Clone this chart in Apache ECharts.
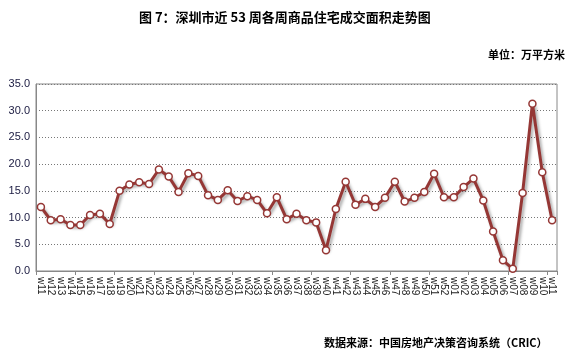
<!DOCTYPE html>
<html>
<head>
<meta charset="utf-8">
<script src="https://cdn.jsdelivr.net/npm/echarts@6/dist/echarts.min.js"></script>
<style>
html,body{margin:0;padding:0;background:#fff;}
#c{width:576px;height:356px;}
</style>
</head>
<body>
<div id="c"></div>
<script>
const weeks = ['w11','w12','w13','w14','w15','w16','w17','w18','w19','w20','w21','w22','w23','w24','w25','w26','w27','w28','w29','w30','w31','w32','w33','w34','w35','w36','w37','w38','w39','w40','w41','w42','w43','w44','w45','w46','w47','w48','w49','w50','w51','w52','w01','w02','w03','w04','w05','w06','w07','w08','w09','w10','w11'];
const area = [12.0,9.5,9.7,8.6,8.6,10.5,10.7,8.8,15.0,16.2,16.6,16.3,19.0,17.7,14.8,18.3,17.8,14.2,13.3,15.1,13.1,14.0,13.3,10.8,13.8,9.7,10.7,9.5,9.1,3.9,11.6,16.7,12.4,13.5,12.0,13.7,16.7,13.0,13.7,14.8,18.2,13.8,13.8,15.7,17.3,13.2,7.4,2.0,0.4,14.6,31.3,18.5,9.5];
const yTicks = {min:0, max:35, interval:5};
const titleText = '图 7：深圳市近 53 周各周商品住宅成交面积走势图';
const unitText = '单位：万平方米';
const sourceText = '数据来源：中国房地产决策咨询系统（CRIC）';

const cjk = '"Noto Sans CJK SC", sans-serif';
const chart = echarts.init(document.getElementById('c'), null, {renderer:'canvas'});
chart.setOption({
  animation:false,
  backgroundColor:'#fff',
  title:[
    {text:titleText, left:134, top:6, textStyle:{fontFamily:cjk, fontSize:13, fontWeight:'bold', color:'#000'}},
    {text:unitText, right:6, top:44, textStyle:{fontFamily:cjk, fontSize:11, fontWeight:'bold', color:'#000'}},
    {text:sourceText, left:319, top:332, textStyle:{fontFamily:cjk, fontSize:11, fontWeight:'bold', color:'#000'}}
  ],
  grid:{left:36, right:19, top:84, bottom:85, show:true, borderColor:'#888', borderWidth:1, backgroundColor:'transparent'},
  xAxis:{
    type:'category', data:weeks, boundaryGap:true,
    axisLine:{lineStyle:{color:'#888', width:1}},
    axisTick:{show:true, interval:3, length:4, lineStyle:{color:'#888'}},
    axisLabel:{interval:0, rotate:-90, fontSize:10, color:'#222', fontFamily:'"Liberation Sans", Arial, sans-serif', margin:6}
  },
  yAxis:{
    type:'value', min:yTicks.min, max:yTicks.max, interval:yTicks.interval,
    axisLine:{show:true, lineStyle:{color:'#888'}},
    axisTick:{show:false},
    axisLabel:{formatter:v=>v.toFixed(1), fontSize:11, color:'#1a1a40', fontFamily:'"Liberation Sans", Arial, sans-serif', margin:6},
    splitLine:{show:true, lineStyle:{color:'#777', type:[1,2], width:1}}
  },
  series:[{
    type:'line', data:area,
    symbol:'circle', symbolSize:7,
    itemStyle:{color:'#fff', borderColor:'#953735', borderWidth:1.5},
    lineStyle:{color:'#953735', width:3, shadowColor:'rgba(0,0,0,0.35)', shadowBlur:3, shadowOffsetX:2, shadowOffsetY:2}
  }]
});
</script>
</body>
</html>
